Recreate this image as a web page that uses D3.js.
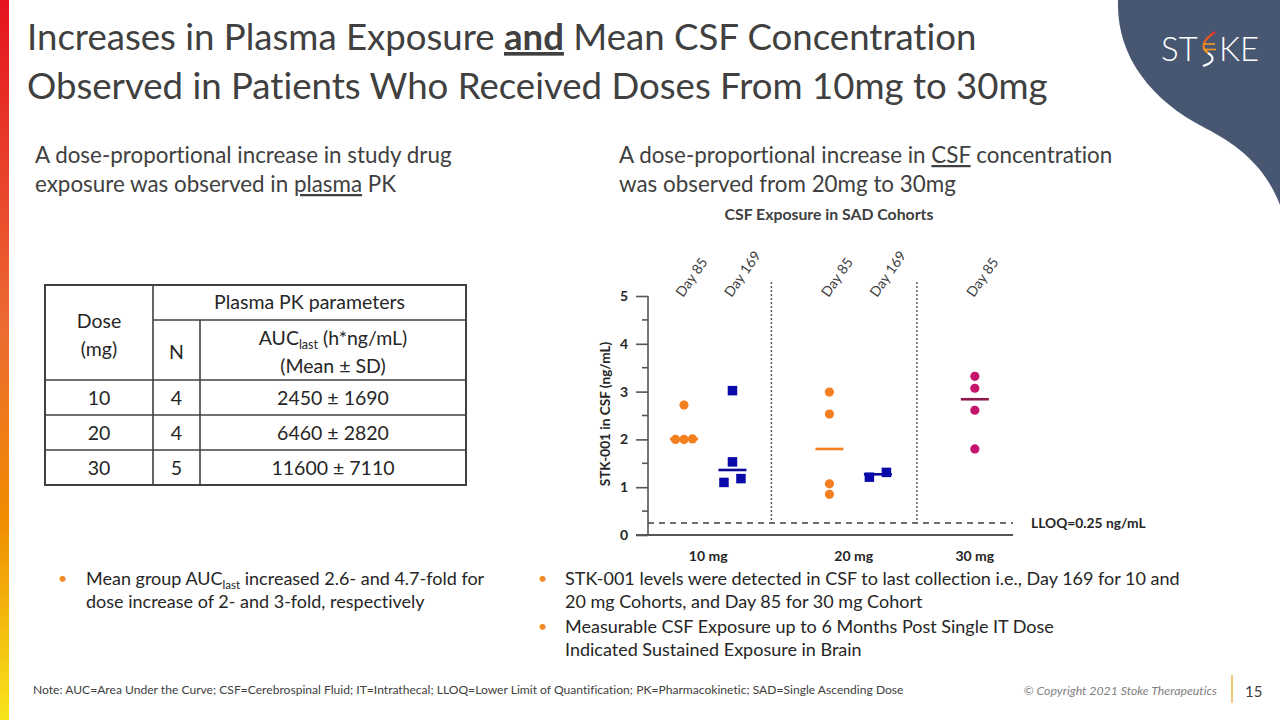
<!DOCTYPE html>
<html><head><meta charset="utf-8">
<script src="https://cdn.jsdelivr.net/npm/d3@7"></script>
<style>
html,body{margin:0;padding:0;background:#fff;}
svg{display:block;font-family:Lato,"Open Sans",sans-serif;font-variant-ligatures:none;}
</style></head>
<body><svg id="c" width="1280" height="720"></svg>
<script>
// ---------------- data ----------------
const doses = ["10 mg", "20 mg", "30 mg"];
const days = ["Day 85", "Day 169"];
const dose10Day85 = [2.72, 2.00, 2.01, 2.00];
const dose10Day169 = [3.02, 1.53, 1.10, 1.18];
const dose20Day85 = [2.99, 2.53, 1.07, 0.85];
const dose20Day169 = [1.21, 1.31];
const dose30Day85 = [3.32, 3.07, 2.61, 1.80];
const groupDose = ["10 mg", "10 mg", "20 mg", "20 mg", "30 mg"];
const groupDay = ["Day 85", "Day 169", "Day 85", "Day 169", "Day 85"];
const groupValues = [dose10Day85, dose10Day169, dose20Day85, dose20Day169, dose30Day85];
const groupMeans = [2.01, 1.36, 1.80, 1.27, 2.84];
const yTicks = [0, 1, 2, 3, 4, 5];
const lloq = 0.25;

const tableDose = [10, 20, 30];
const tableN = [4, 4, 5];
const aucMean = [2450, 6460, 11600];
const aucSD = [1690, 2820, 7110];

// ---------------- styling ----------------
const TXT = "#404040";
const ORANGE = "#f47f20", BLUE = "#0a0aaa", MAGENTA = "#c4146c", MAROON = "#8c1a4b";
const markColor = (dose, day) => dose === "30 mg" ? MAGENTA : (day === "Day 85" ? ORANGE : BLUE);
const meanColor = (dose, day) => dose === "30 mg" ? MAROON : (day === "Day 85" ? ORANGE : "#0a0a96");

const svg = d3.select("#c");
const defs = svg.append("defs");

// left gradient bar
const lg = defs.append("linearGradient").attr("id", "lbar").attr("x1", 0).attr("y1", 0).attr("x2", 0).attr("y2", 1);
lg.append("stop").attr("offset", "0%").attr("stop-color", "#e5131f");
lg.append("stop").attr("offset", "45%").attr("stop-color", "#ec6a32");
lg.append("stop").attr("offset", "72%").attr("stop-color", "#f08c00");
lg.append("stop").attr("offset", "100%").attr("stop-color", "#f8e51c");
svg.append("rect").attr("x", 0).attr("y", 0).attr("width", 9).attr("height", 720).attr("fill", "url(#lbar)");

// logo blob
svg.append("path")
  .attr("d", "M1118,0 C1116,55 1150,100 1205,128 C1240,146 1266,168 1280,205 L1280,0 Z")
  .attr("fill", "#475671");
const logo = svg.append("g").attr("font-family", "Lato, sans-serif").attr("font-weight", 300)
  .attr("font-size", 33).attr("fill", "#ffffff");
logo.append("text").attr("x", 1161).attr("y", 61).text("ST");
logo.append("text").attr("x", 1219).attr("y", 61).text("KE");
const lgr = defs.append("linearGradient").attr("id", "dna").attr("x1", 0).attr("y1", 0).attr("x2", 0).attr("y2", 1);
lgr.append("stop").attr("offset", "0%").attr("stop-color", "#e8302a");
lgr.append("stop").attr("offset", "100%").attr("stop-color", "#f6a21c");
svg.append("path").attr("d", "M1215,32 C1203,40 1200,47 1208,53")
  .attr("fill", "none").attr("stroke", "url(#dna)").attr("stroke-width", 2.2);
svg.append("path").attr("d", "M1208,53 C1216,58 1213,63 1203,66")
  .attr("fill", "none").attr("stroke", "#ffffff").attr("stroke-width", 2.2);
[[1203, 1215, 44], [1204, 1216, 49.5]].forEach(r => {
  svg.append("line").attr("x1", r[0]).attr("x2", r[1]).attr("y1", r[2]).attr("y2", r[2])
    .attr("stroke", "#f39a2a").attr("stroke-width", 1.6);
});

// title
const title = svg.append("text").attr("x", 27).attr("y", 50).attr("font-size", 36.6).attr("fill", TXT);
title.append("tspan").text("Increases in Plasma Exposure ");
title.append("tspan").attr("font-weight", 700).attr("text-decoration", "underline").text("and");
title.append("tspan").text(" Mean CSF Concentration");
svg.append("text").attr("x", 27).attr("y", 99).attr("font-size", 36.6).attr("fill", TXT)
  .text("Observed in Patients Who Received Doses From 10mg to 30mg");

// subheadings
const sub = svg.append("g").attr("font-size", 22.4).attr("fill", TXT);
sub.append("text").attr("x", 35).attr("y", 163).text("A dose-proportional increase in study drug");
const s2 = sub.append("text").attr("x", 35).attr("y", 192);
s2.append("tspan").text("exposure was observed in ");
s2.append("tspan").attr("text-decoration", "underline").text("plasma");
s2.append("tspan").text(" PK");
const s3 = sub.append("text").attr("x", 619).attr("y", 163);
s3.append("tspan").text("A dose-proportional increase in ");
s3.append("tspan").attr("text-decoration", "underline").text("CSF");
s3.append("tspan").text(" concentration");
sub.append("text").attr("x", 619).attr("y", 192).text("was observed from 20mg to 30mg");

// ---------------- table ----------------
const tb = svg.append("g").attr("font-size", 19.5).attr("fill", "#262626");
const colX = [45, 153, 200, 466];
const rowY = [285, 320, 380, 415, 450, 485];
const bc = "#404040";
tb.append("rect").attr("x", colX[0]).attr("y", rowY[0]).attr("width", colX[3] - colX[0]).attr("height", rowY[5] - rowY[0])
  .attr("fill", "none").attr("stroke", bc).attr("stroke-width", 2);
const tl = (x1, y1, x2, y2) => tb.append("line").attr("x1", x1).attr("y1", y1).attr("x2", x2).attr("y2", y2)
  .attr("stroke", bc).attr("stroke-width", 1.6);
tl(colX[1], rowY[0], colX[1], rowY[5]);
tl(colX[2], rowY[1], colX[2], rowY[5]);
tl(colX[1], rowY[1], colX[3], rowY[1]);
[2, 3, 4].forEach(i => tl(colX[0], rowY[i], colX[3], rowY[i]));
const ct = (x, y, t) => tb.append("text").attr("x", x).attr("y", y).attr("text-anchor", "middle").text(t);
ct((colX[0] + colX[1]) / 2, 328, "Dose");
ct((colX[0] + colX[1]) / 2, 356, "(mg)");
ct((colX[1] + colX[3]) / 2, 309, "Plasma PK parameters");
ct((colX[1] + colX[2]) / 2, 359, "N");
const auc = tb.append("text").attr("x", (colX[2] + colX[3]) / 2).attr("y", 345).attr("text-anchor", "middle");
auc.append("tspan").text("AUC");
auc.append("tspan").attr("font-size", 12.5).attr("dy", 4).text("last");
auc.append("tspan").attr("dy", -4).text(" (h*ng/mL)");
ct((colX[2] + colX[3]) / 2, 373, "(Mean ± SD)");
tableDose.forEach((d, i) => {
  const yy = (rowY[i + 2] + rowY[i + 3]) / 2 + 7;
  ct((colX[0] + colX[1]) / 2, yy, String(d));
  ct((colX[1] + colX[2]) / 2, yy, String(tableN[i]));
  ct((colX[2] + colX[3]) / 2, yy, `${aucMean[i]} ± ${aucSD[i]}`);
});

// ---------------- chart ----------------
const ch = svg.append("g");
const y = d3.scaleLinear().domain([0, 5]).range([535, 296]);
const slot = 48.48;
const x0 = d3.scaleBand().domain(doses).range([635.5, 635.5 + 9 * slot]);
const x1 = d3.scalePoint().domain(days).range([0, x0.bandwidth()]).padding(1);
const gx = (dose, day) => x0(dose) + x1(day);
const axisX = 648;

ch.append("text").attr("x", 829).attr("y", 220).attr("text-anchor", "middle").attr("font-size", 15.8)
  .attr("font-weight", 700).attr("fill", TXT).text("CSF Exposure in SAD Cohorts");

// y axis
const yAxis = d3.axisLeft(y).tickValues(yTicks).tickFormat(d3.format("d")).tickSize(12).tickPadding(8);
const ya = ch.append("g").attr("transform", `translate(${axisX},0)`).call(yAxis);
ya.select(".domain").attr("stroke", "#555").attr("stroke-width", 1.6).attr("d", `M0,${y(5)}V${y(0)}`);
ya.selectAll(".tick line").attr("stroke", "#555").attr("stroke-width", 1.6);
ya.selectAll(".tick text").attr("font-family", "Lato, sans-serif").attr("font-size", 14).attr("font-weight", 700).attr("fill", "#262626");
const minor = d3.range(0.5, 5, 1);
ch.selectAll(".minor").data(minor).join("line").attr("x1", axisX - 6).attr("x2", axisX)
  .attr("y1", d => y(d)).attr("y2", d => y(d)).attr("stroke", "#555").attr("stroke-width", 1.6);
ch.append("text").attr("transform", `translate(610,414) rotate(-90)`)
  .attr("text-anchor", "middle").attr("font-size", 13.6).attr("font-weight", 700).attr("fill", "#262626")
  .text("STK-001 in CSF (ng/mL)");

// x axis line
const xEnd = 1013;
ch.append("line").attr("x1", 636).attr("x2", xEnd).attr("y1", y(0)).attr("y2", y(0))
  .attr("stroke", "#555").attr("stroke-width", 1.8);
doses.forEach(d => {
  const ds = groupDose.map((g, i) => g === d ? gx(g, groupDay[i]) : null).filter(v => v !== null);
  ch.append("text").attr("x", d3.mean(ds)).attr("y", y(0) + 26).attr("text-anchor", "middle")
    .attr("font-size", 14).attr("font-weight", 700).attr("fill", "#262626").text(d);
});

// LLOQ
ch.append("line").attr("x1", axisX).attr("x2", xEnd).attr("y1", y(lloq)).attr("y2", y(lloq))
  .attr("stroke", "#404040").attr("stroke-width", 1.4).attr("stroke-dasharray", "6,5");
ch.append("text").attr("x", 1031).attr("y", y(lloq) + 5).attr("font-size", 13.8).attr("font-weight", 700)
  .attr("fill", "#262626").text("LLOQ=0.25 ng/mL");

// separators
doses.slice(1).forEach(d => {
  const sx = x0(d) - 9.5;
  ch.append("line").attr("x1", sx).attr("x2", sx).attr("y1", 282).attr("y2", y(lloq))
    .attr("stroke", "#555").attr("stroke-width", 1.4).attr("stroke-dasharray", "2,2");
});

// day labels
groupDose.forEach((d, i) => {
  const xx = gx(d, groupDay[i]);
  ch.append("text").attr("transform", `translate(${xx - 1},298) rotate(-55)`)
    .attr("font-size", 14).attr("fill", TXT).text(groupDay[i]);
});

// points with simple swarm offsets
const R = 4.6, SQ = 9.5, spread = 8.5, near = 9;
groupValues.forEach((vals, gi) => {
  const dose = groupDose[gi], day = groupDay[gi];
  const cx = gx(dose, day);
  const col = markColor(dose, day);
  const sorted = vals.map((v, k) => ({ v, k })).sort((a, b) => a.v - b.v);
  const clusters = [];
  sorted.forEach(p => {
    const last = clusters[clusters.length - 1];
    if (last && Math.abs(y(last[last.length - 1].v) - y(p.v)) < near) last.push(p); else clusters.push([p]);
  });
  const pts = [];
  clusters.forEach(c => c.forEach((p, j) => pts.push({ v: p.v, dx: (j - (c.length - 1) / 2) * spread * (c.length > 2 ? 1 : 2) })));
  ch.append("line").attr("x1", cx - 14).attr("x2", cx + 14).attr("y1", y(groupMeans[gi])).attr("y2", y(groupMeans[gi]))
    .attr("stroke", meanColor(dose, day)).attr("stroke-width", 2.6);
  if (day === "Day 85") {
    ch.selectAll(null).data(pts).join("circle").attr("cx", p => cx + p.dx).attr("cy", p => y(p.v))
      .attr("r", R).attr("fill", col);
  } else {
    ch.selectAll(null).data(pts).join("rect").attr("x", p => cx + p.dx - SQ / 2).attr("y", p => y(p.v) - SQ / 2)
      .attr("width", SQ).attr("height", SQ).attr("fill", col);
  }
});

// ---------------- bullets ----------------
const bl = svg.append("g").attr("font-size", 18).attr("fill", "#262626");
const bullet = (x, yy) => bl.append("text").attr("x", x).attr("y", yy).attr("fill", "#f08a24").attr("font-size", 16).text("•");
bullet(58, 584);
const b1 = bl.append("text").attr("x", 86).attr("y", 585);
b1.append("tspan").text("Mean group AUC");
b1.append("tspan").attr("font-size", 11.5).attr("dy", 4).text("last");
b1.append("tspan").attr("dy", -4).text(" increased 2.6- and 4.7-fold for");
bl.append("text").attr("x", 86).attr("y", 608).text("dose increase of 2- and 3-fold, respectively");
bullet(538, 584);
bl.append("text").attr("x", 565).attr("y", 585).text("STK-001 levels were detected in CSF to last collection i.e., Day 169 for 10 and");
bl.append("text").attr("x", 565).attr("y", 608).text("20 mg Cohorts, and Day 85 for 30 mg Cohort");
bullet(538, 632);
bl.append("text").attr("x", 565).attr("y", 633).text("Measurable CSF Exposure up to 6 Months Post Single IT Dose");
bl.append("text").attr("x", 565).attr("y", 656).text("Indicated Sustained Exposure in Brain");

// ---------------- footer ----------------
svg.append("text").attr("x", 33).attr("y", 694).attr("font-size", 12.1).attr("fill", TXT)
  .text("Note: AUC=Area Under the Curve; CSF=Cerebrospinal Fluid; IT=Intrathecal; LLOQ=Lower Limit of Quantification; PK=Pharmacokinetic; SAD=Single Ascending Dose");
svg.append("text").attr("x", 1217).attr("y", 695).attr("text-anchor", "end").attr("font-size", 12.3)
  .attr("font-style", "italic").attr("fill", "#7f7f7f").text("© Copyright 2021 Stoke Therapeutics");
svg.append("line").attr("x1", 1232).attr("x2", 1232).attr("y1", 675).attr("y2", 703)
  .attr("stroke", "#e8b84a").attr("stroke-width", 1.5);
svg.append("text").attr("x", 1245).attr("y", 697).attr("font-size", 15).attr("fill", TXT).text("15");
</script></body></html>
